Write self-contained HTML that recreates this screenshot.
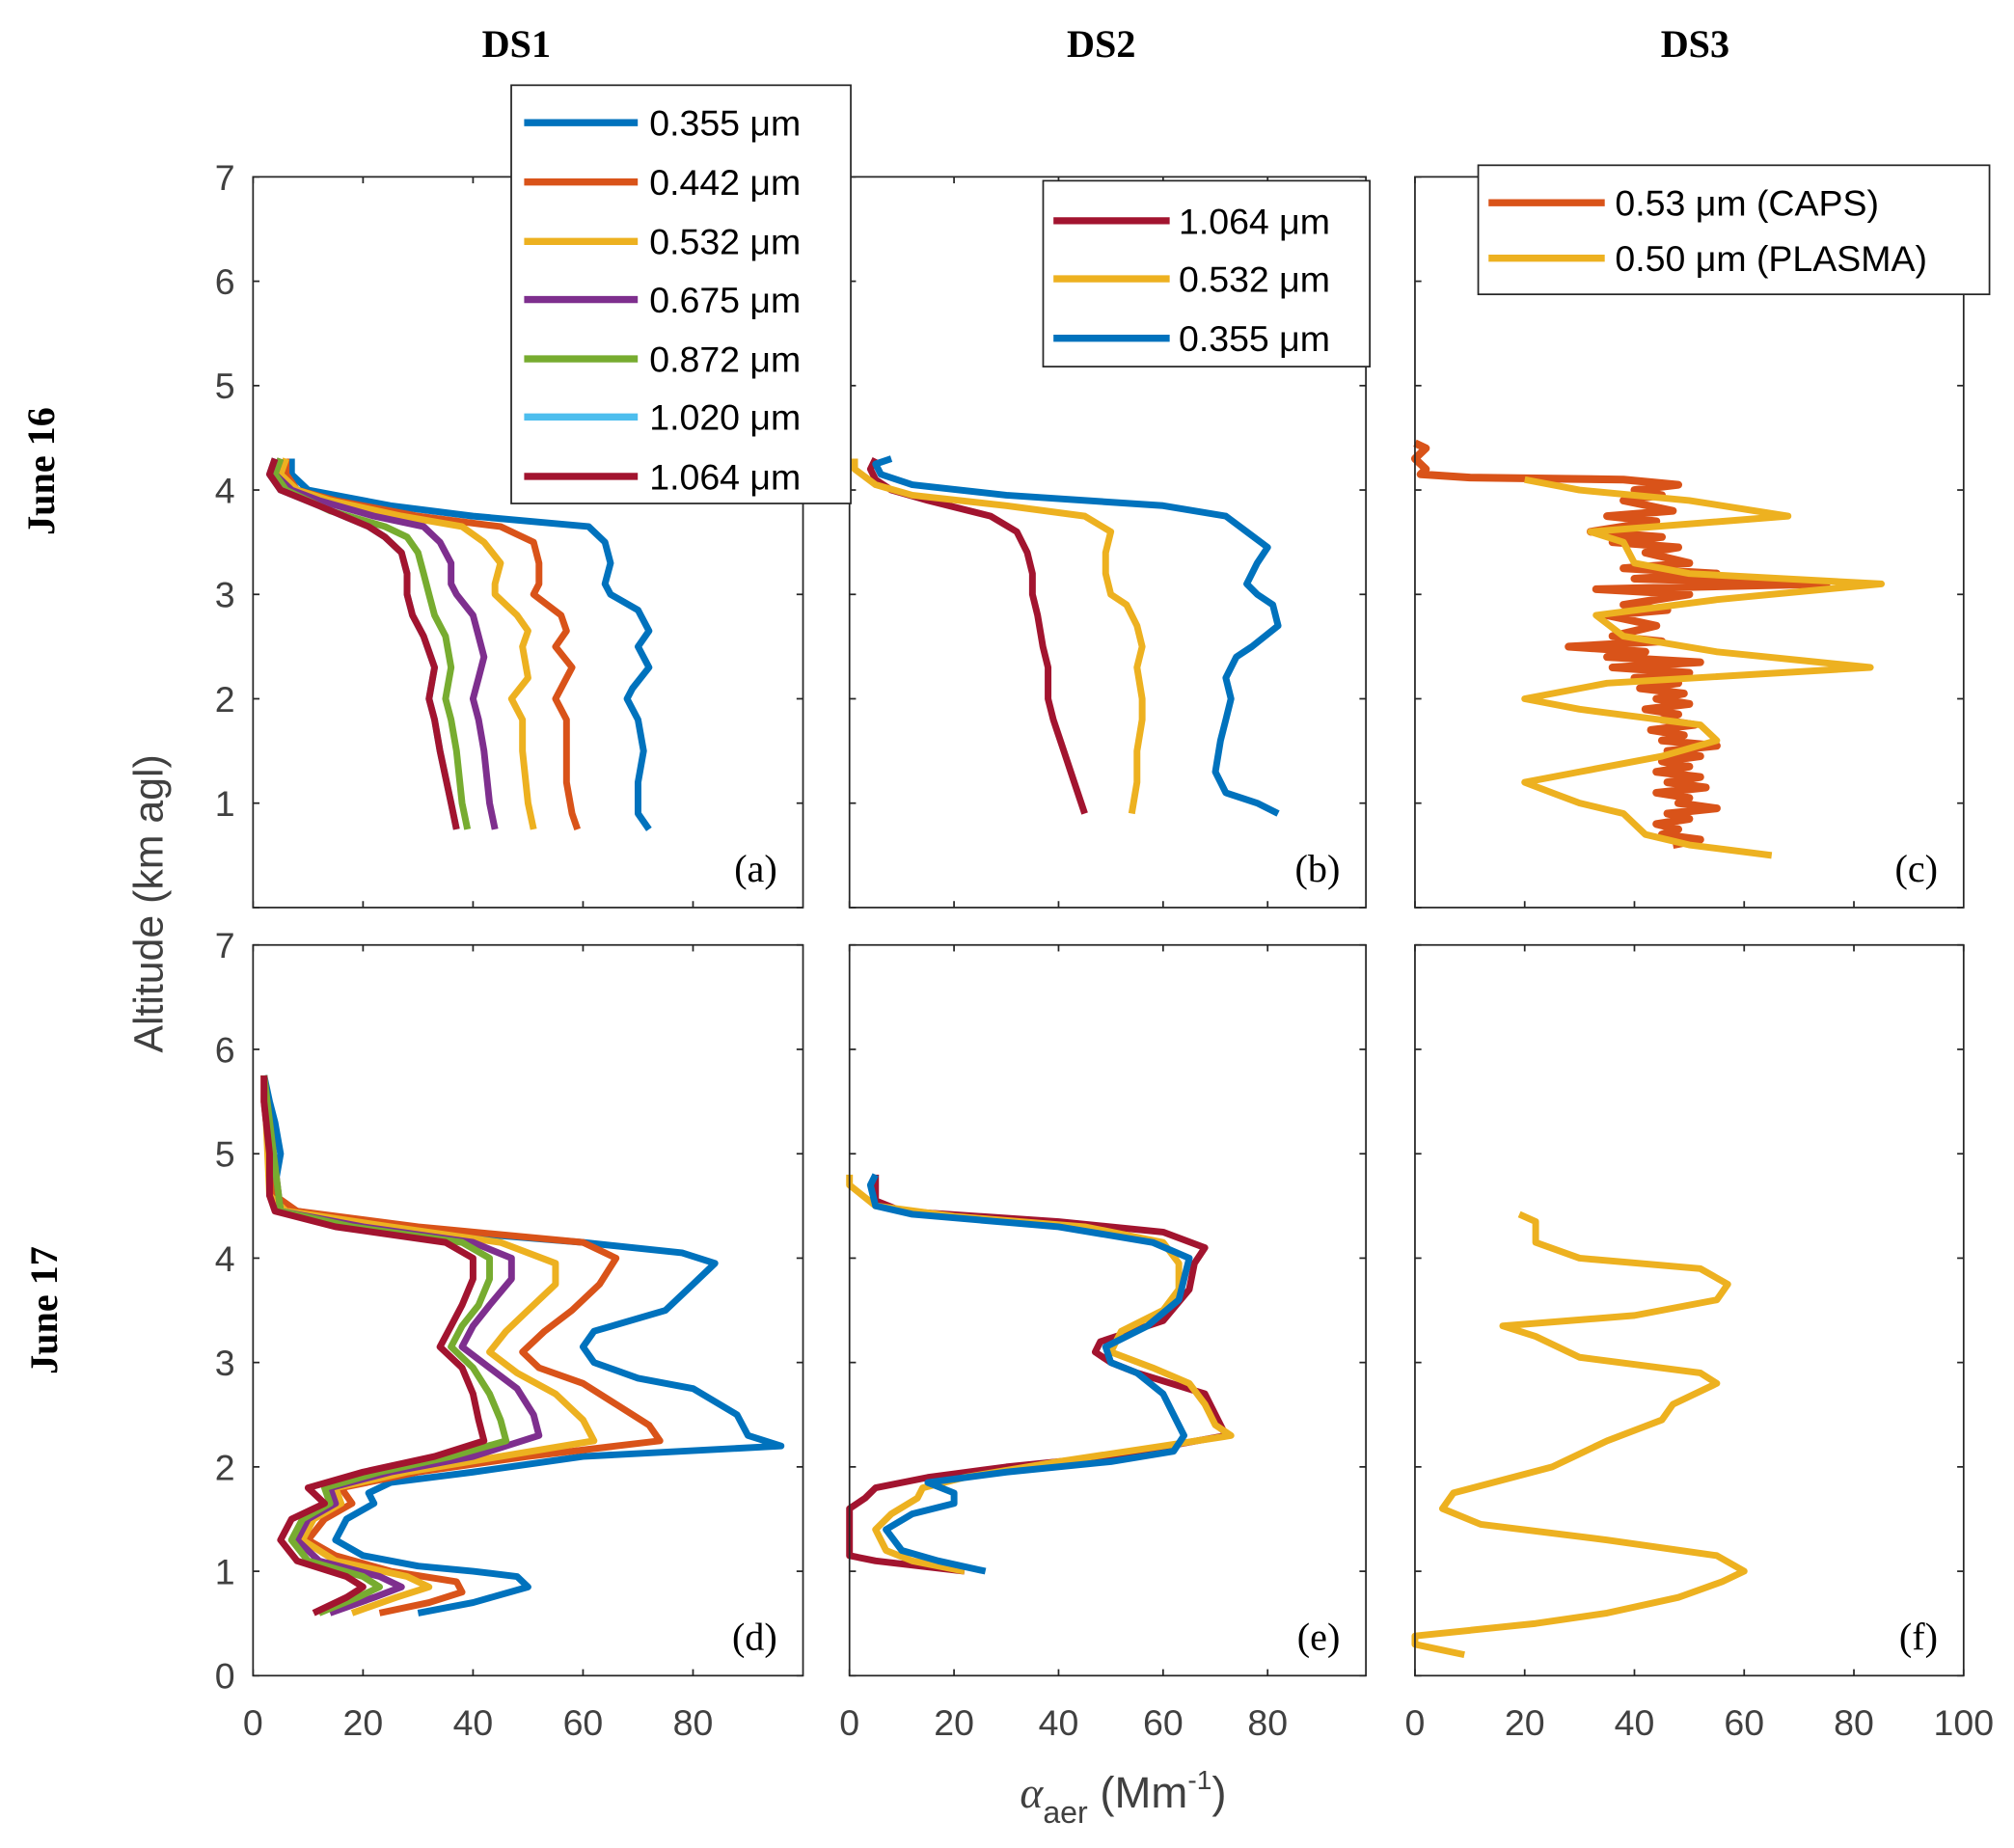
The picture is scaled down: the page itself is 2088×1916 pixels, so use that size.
<!DOCTYPE html>
<html><head><meta charset="utf-8"><style>
html,body{margin:0;padding:0;background:#fff;}
svg{display:block;}
text{font-family:"Liberation Sans",sans-serif;}
.tick{font-size:28px;fill:#404040;}
.hdr{font-family:"Liberation Serif",serif;font-weight:bold;font-size:30px;fill:#000;}
.leg{font-size:28px;fill:#000;}
.plab{font-family:"Liberation Serif",serif;font-size:30px;fill:#000;}
</style></head><body>
<svg id="fig" width="2088" height="1916" viewBox="0 0 1560 1431.5" xmlns="http://www.w3.org/2000/svg">
<g id="root"></g>
</svg>
<script>
// ---- data (altitude km, extinction Mm^-1) ----
const colors = {"0.355":"#0072BD","0.442":"#D95319","0.532":"#EDB120","0.675":"#7E2F8E","0.872":"#77AC30","1.020":"#4DBEEE","1.064":"#A2142F"};
const a355 = [[0.75,72],[0.9,70],[1.2,70],[1.5,71],[1.8,70],[2.0,68],[2.1,69],[2.3,72],[2.5,70],[2.65,72],[2.85,70],[3.0,65],[3.1,64],[3.3,65],[3.5,64],[3.65,61],[3.75,40],[3.85,25],[4.0,10],[4.15,7],[4.3,7]];
const a442 = [[0.75,59],[0.9,58],[1.2,57],[1.5,57],[1.8,57],[2.0,55],[2.2,57],[2.3,58],[2.5,55],[2.65,57],[2.8,56],[3.0,51],[3.1,52],[3.3,52],[3.5,51],[3.65,45],[3.75,30],[3.9,15],[4.0,8],[4.15,6],[4.3,6]];
const a532 = [[0.75,51],[1.0,50],[1.5,49],[1.8,49],[2.0,47],[2.2,50],[2.5,49],[2.65,50],[2.8,48],[3.0,44],[3.1,44],[3.3,45],[3.5,42],[3.65,38],[3.75,27],[3.9,14],[4.0,8],[4.15,5],[4.3,6]];
const a675 = [[0.75,44],[1.0,43],[1.5,42],[1.8,41],[2.0,40],[2.2,41],[2.4,42],[2.6,41],[2.8,40],[3.0,37],[3.1,36],[3.3,36],[3.5,34],[3.65,31],[3.75,22],[3.9,12],[4.0,7],[4.15,4],[4.3,5]];
const a872 = [[0.75,39],[1.0,38],[1.5,37],[1.8,36],[2.0,35],[2.3,36],[2.6,35],[2.8,33],[3.0,32],[3.2,31],[3.4,30],[3.55,28],[3.65,24],[3.8,14],[4.0,6],[4.15,4],[4.3,5]];
const a1020 = [[0.75,37],[1.0,36],[1.5,34],[1.8,33],[2.0,32],[2.3,33],[2.6,31],[2.8,29],[3.0,28],[3.2,28],[3.4,27],[3.55,24],[3.65,21],[3.85,12],[4.0,5],[4.15,3],[4.3,4]];
const a1064 = [[0.75,37],[1.0,36],[1.5,34],[1.8,33],[2.0,32],[2.3,33],[2.6,31],[2.8,29],[3.0,28],[3.2,28],[3.4,27],[3.55,24],[3.65,21],[3.85,12],[4.0,5],[4.15,3],[4.3,4]];
const b1064 = [[0.9,45],[1.2,43],[1.5,41],[1.8,39],[2.0,38],[2.3,38],[2.5,37],[2.8,36],[3.0,35],[3.2,35],[3.4,34],[3.6,32],[3.75,27],[3.9,15],[4.0,8],[4.1,5],[4.2,4],[4.3,5]];
const b532 = [[0.9,54],[1.2,55],[1.5,55],[1.8,56],[2.0,56],[2.3,55],[2.5,56],[2.7,55],[2.9,53],[3.0,50],[3.2,49],[3.4,49],[3.6,50],[3.75,45],[3.85,30],[3.95,12],[4.05,5],[4.2,1],[4.3,1]];
const b355 = [[0.9,82],[1.0,78],[1.1,72],[1.3,70],[1.6,71],[1.8,72],[2.0,73],[2.2,72],[2.4,74],[2.5,77],[2.7,82],[2.9,81],[3.0,78],[3.1,76],[3.3,78],[3.45,80],[3.6,76],[3.75,72],[3.85,60],[3.95,30],[4.05,12],[4.15,6],[4.25,5],[4.3,8]];
const cCaps = [[0.6,47],[0.65,52],[0.7,45],[0.75,48],[0.8,44],[0.85,50],[0.9,46],[0.95,55],[1.0,48],[1.05,50],[1.1,44],[1.15,53],[1.2,46],[1.25,52],[1.3,44],[1.35,50],[1.4,45],[1.45,52],[1.5,46],[1.55,55],[1.6,45],[1.65,49],[1.7,43],[1.75,51],[1.8,45],[1.85,48],[1.9,42],[1.95,50],[2.0,44],[2.05,49],[2.1,41],[2.15,48],[2.2,40],[2.25,50],[2.3,36],[2.35,52],[2.4,35],[2.45,42],[2.5,28],[2.55,45],[2.6,36],[2.7,44],[2.8,35],[2.85,46],[2.9,38],[3.0,50],[3.05,33],[3.1,75],[3.15,40],[3.2,55],[3.25,38],[3.3,50],[3.4,42],[3.45,48],[3.5,36],[3.55,45],[3.6,32],[3.7,44],[3.75,35],[3.8,47],[3.9,38],[3.95,45],[4.0,40],[4.05,48],[4.1,38],[4.12,10],[4.15,1],[4.2,2],[4.3,0],[4.4,2],[4.45,0]];
const cPlasma = [[0.5,65],[0.6,50],[0.7,42],[0.8,40],[0.9,38],[1.0,30],[1.1,25],[1.2,20],[1.3,30],[1.45,45],[1.6,55],[1.75,52],[1.9,30],[2.0,20],[2.15,35],[2.3,83],[2.45,55],[2.6,38],[2.8,33],[2.95,55],[3.1,85],[3.2,50],[3.3,40],[3.5,38],[3.6,32],[3.75,68],[3.9,50],[4.0,30],[4.1,20]];
const d355 = [[0.6,30],[0.7,40],[0.85,50],[0.95,48],[1.0,40],[1.05,30],[1.15,20],[1.3,15],[1.5,17],[1.65,22],[1.75,21],[1.85,25],[1.95,40],[2.1,60],[2.2,96],[2.3,90],[2.5,88],[2.75,80],[2.85,70],[3.0,62],[3.15,60],[3.3,62],[3.5,75],[3.75,80],[3.95,84],[4.05,78],[4.15,60],[4.3,25],[4.45,8],[4.5,5],[4.7,4],[5.0,5],[5.3,4],[5.5,3],[5.75,2]];
const d442 = [[0.6,23],[0.7,32],[0.8,38],[0.9,37],[1.0,25],[1.15,15],[1.3,10],[1.5,13],[1.65,18],[1.8,16],[1.95,30],[2.1,50],[2.25,74],[2.4,72],[2.6,66],[2.8,60],[2.95,52],[3.1,49],[3.3,53],[3.5,58],[3.75,63],[4.0,66],[4.15,60],[4.3,30],[4.45,8],[4.6,4],[5.0,3],[5.5,2],[5.75,2]];
const d532 = [[0.6,18],[0.75,26],[0.85,32],[0.95,28],[1.1,15],[1.3,9],[1.5,11],[1.65,16],[1.8,15],[1.95,28],[2.1,45],[2.25,62],[2.45,60],[2.7,55],[2.9,48],[3.1,43],[3.3,46],[3.5,50],[3.75,55],[3.95,55],[4.15,45],[4.3,25],[4.45,6],[4.6,3],[5.75,2]];
const d675 = [[0.6,14],[0.75,22],[0.85,27],[0.95,23],[1.1,12],[1.3,8],[1.5,10],[1.65,15],[1.8,14],[1.95,25],[2.1,40],[2.3,52],[2.5,51],[2.75,48],[2.95,43],[3.15,38],[3.35,40],[3.55,43],[3.8,47],[4.0,47],[4.15,40],[4.3,20],[4.45,5],[5.75,2]];
const d872 = [[0.6,12],[0.75,19],[0.85,23],[0.95,20],[1.1,10],[1.3,7],[1.5,9],[1.65,14],[1.8,13],[1.95,23],[2.1,36],[2.25,46],[2.45,45],[2.7,43],[2.95,40],[3.15,36],[3.35,38],[3.55,41],[3.8,43],[4.0,43],[4.15,38],[4.3,18],[4.45,5],[5.75,2]];
const d1064 = [[0.6,11],[0.75,17],[0.85,20],[0.95,17],[1.1,8],[1.3,5],[1.5,7],[1.65,13],[1.8,10],[1.95,20],[2.1,33],[2.25,42],[2.45,41],[2.7,40],[2.95,38],[3.15,34],[3.35,36],[3.55,38],[3.8,40],[4.0,40],[4.15,35],[4.3,15],[4.45,4],[4.6,3],[5.0,3],[5.5,2],[5.75,2]];
const e1064 = [[1.0,22],[1.1,5],[1.15,0],[1.6,0],[1.7,3],[1.8,5],[1.9,15],[2.0,30],[2.1,50],[2.3,72],[2.5,70],[2.7,68],[2.9,55],[3.0,50],[3.1,47],[3.2,48],[3.4,60],[3.7,65],[3.95,66],[4.1,68],[4.25,60],[4.35,40],[4.45,10],[4.55,5],[4.8,5]];
const e532 = [[1.0,22],[1.1,12],[1.2,7],[1.4,5],[1.55,8],[1.7,13],[1.8,14],[1.9,22],[2.05,40],[2.2,60],[2.3,73],[2.4,70],[2.6,68],[2.8,65],[2.95,58],[3.1,50],[3.3,52],[3.5,60],[3.7,63],[3.95,63],[4.15,60],[4.3,45],[4.4,20],[4.5,5],[4.7,0],[4.8,0]];
const e355 = [[1.0,26],[1.1,17],[1.2,10],[1.4,7],[1.55,12],[1.65,20],[1.75,20],[1.85,15],[1.95,30],[2.05,50],[2.15,62],[2.3,64],[2.5,62],[2.7,60],[2.9,55],[3.0,50],[3.15,49],[3.35,57],[3.6,63],[3.8,64],[4.0,65],[4.15,58],[4.3,40],[4.42,12],[4.5,5],[4.7,4],[4.8,5]];
const fPlasma = [[0.2,9],[0.3,0],[0.38,0],[0.5,22],[0.6,35],[0.75,48],[0.9,56],[1.0,60],[1.15,55],[1.3,35],[1.45,12],[1.6,5],[1.75,7],[2.0,25],[2.25,35],[2.45,45],[2.6,47],[2.8,55],[2.9,52],[3.05,30],[3.25,22],[3.35,16],[3.45,40],[3.6,55],[3.75,57],[3.9,52],[4.0,30],[4.15,22],[4.35,22],[4.42,19]];
const xTicks = [0,20,40,60,80];
const yTicks = [0,1,2,3,4,5,6,7];

const NS="http://www.w3.org/2000/svg";
const root=document.getElementById('root');
function mk(tag,attrs,parent){const e=document.createElementNS(NS,tag);for(const k in attrs)e.setAttribute(k,attrs[k]);(parent||root).appendChild(e);return e;}

const panels = [
 {id:"a",x0:196,x1:622,y0:137,y1:703,xmax:100,series:[["0.355",a355],["0.442",a442],["0.532",a532],["0.675",a675],["0.872",a872],["1.020",a1020],["1.064",a1064]],ylab:true,xlab:false},
 {id:"b",x0:658,x1:1058,y0:137,y1:703,xmax:98.8,series:[["1.064",b1064],["0.532",b532],["0.355",b355]],ylab:false,xlab:false},
 {id:"c",x0:1096,x1:1521,y0:137,y1:703,xmax:100,series:[["0.442",cCaps],["0.532",cPlasma]],ylab:false,xlab:false,caps:true},
 {id:"d",x0:196,x1:622,y0:732,y1:1298,xmax:100,series:[["0.355",d355],["0.442",d442],["0.532",d532],["0.675",d675],["0.872",d872],["1.064",d1064]],ylab:true,xlab:true},
 {id:"e",x0:658,x1:1058,y0:732,y1:1298,xmax:98.8,series:[["1.064",e1064],["0.532",e532],["0.355",e355]],ylab:false,xlab:true},
 {id:"f",x0:1096,x1:1521,y0:732,y1:1298,xmax:100,series:[["0.532",fPlasma]],ylab:false,xlab:true,last:true}
];

panels.forEach(p=>{
  const g=mk('g',{});
  
  
  const sx=v=>p.x0+(v/p.xmax)*(p.x1-p.x0);
  const sy=v=>p.y1-(v/7)*(p.y1-p.y0);
  mk('rect',{x:p.x0,y:p.y0,width:p.x1-p.x0,height:p.y1-p.y0,fill:'#fff',stroke:'none'},g);
  p.series.forEach(([k,arr])=>{
    const d=arr.map((pt,i)=>(i?'L':'M')+sx(pt[1]).toFixed(1)+' '+sy(pt[0]).toFixed(1)).join(' ');
    const path=mk('path',{d:d,fill:'none',stroke:colors[k],'stroke-width':arr===cCaps?6:5.2,'stroke-linejoin':'round'},g);
    
    
  });
  mk('rect',{x:p.x0,y:p.y0,width:p.x1-p.x0,height:p.y1-p.y0,fill:'none',stroke:'#262626','stroke-width':1.3},g);
  const xt = p.last ? xTicks.concat([100]) : xTicks;
  xt.forEach(t=>{
    const x=sx(t);
    mk('line',{x1:x,x2:x,y1:p.y1,y2:p.y1-5,stroke:'#262626','stroke-width':1.3},g);
    mk('line',{x1:x,x2:x,y1:p.y0,y2:p.y0+5,stroke:'#262626','stroke-width':1.3},g);
    if(p.xlab){const tx=mk('text',{x:x,y:p.y1+46,'text-anchor':'middle',class:'tick'},g);tx.textContent=t;
      
      }
  });
  yTicks.forEach(t=>{
    const y=sy(t);
    mk('line',{x1:p.x0,x2:p.x0+5,y1:y,y2:y,stroke:'#262626','stroke-width':1.3},g);
    mk('line',{x1:p.x1,x2:p.x1-5,y1:y,y2:y,stroke:'#262626','stroke-width':1.3},g);
    if(p.ylab && (t>0 || p.xlab)){const tx=mk('text',{x:p.x0-14,y:y+10,'text-anchor':'end',class:'tick'},g);tx.textContent=t;
      
      }
  });
  const pl=mk('text',{x:p.x1-20,y:p.y1-20,'text-anchor':'end',class:'plab'},g);
  pl.textContent='('+p.id+')';
  
  
});

// legends
const legends=[
 {id:"a",box:[396,66,263,324],lx:[406,494],tx:503,items:[["0.355","0.355 \u03bcm",95],["0.442","0.442 \u03bcm",141],["0.532","0.532  \u03bcm",187],["0.675","0.675  \u03bcm",232],["0.872","0.872 \u03bcm",278],["1.020","1.020  \u03bcm",323],["1.064","1.064 \u03bcm",369]]},
 {id:"b",box:[808,140,253,144],lx:[816,906],tx:913,items:[["1.064","1.064 \u03bcm",171],["0.532","0.532 \u03bcm",216],["0.355","0.355 \u03bcm",262]]},
 {id:"c",box:[1145,128,396,100],lx:[1153,1243],tx:1251,items:[["0.442","0.53 \u03bcm (CAPS)",157],["0.532","0.50 \u03bcm (PLASMA)",200]]}
];
legends.forEach(L=>{
  const g=mk('g',{});
  
  
  mk('rect',{x:L.box[0],y:L.box[1],width:L.box[2],height:L.box[3],fill:'#fff',stroke:'#262626','stroke-width':1.3},g);
  L.items.forEach(([k,label,y])=>{
    const e=mk('g',{},g);
    
    
    mk('line',{x1:L.lx[0],x2:L.lx[1],y1:y,y2:y,stroke:colors[k],'stroke-width':5.5},e);
    const t=mk('text',{x:L.tx,y:y+10,class:'leg'},e);t.textContent=label;
  });
});

function addText(name,attrs,txt){const t=document.createElementNS(NS,'text');for(const k in attrs)t.setAttribute(k,attrs[k]);t.textContent=txt;


root.appendChild(t);return t;}
addText('header-ds1',{x:400,y:44,'text-anchor':'middle',class:'hdr'},'DS1');
addText('header-ds2',{x:853,y:44,'text-anchor':'middle',class:'hdr'},'DS2');
addText('header-ds3',{x:1313,y:44,'text-anchor':'middle',class:'hdr'},'DS3');
addText('row-label-june16',{x:0,y:0,'text-anchor':'middle',class:'hdr',transform:'translate(42,365) rotate(-90)'},'June 16');
addText('row-label-june17',{x:0,y:0,'text-anchor':'middle',class:'hdr',transform:'translate(44,1015) rotate(-90)'},'June 17');
addText('y-axis-title',{x:0,y:0,'text-anchor':'middle','font-size':'32px',fill:'#404040',transform:'translate(126,700) rotate(-90)'},'Altitude (km agl)');
const xt=addText('x-axis-title',{x:870,y:1400,'text-anchor':'middle','font-size':'34px',fill:'#404040'},'');
xt.innerHTML='<tspan font-family="Liberation Serif" font-style="italic">\u03b1</tspan><tspan font-size="24" dy="12">aer</tspan><tspan dy="-12"> (Mm</tspan><tspan font-size="21" dy="-14">-1</tspan><tspan dy="14">)</tspan>';
</script>
</body></html>
